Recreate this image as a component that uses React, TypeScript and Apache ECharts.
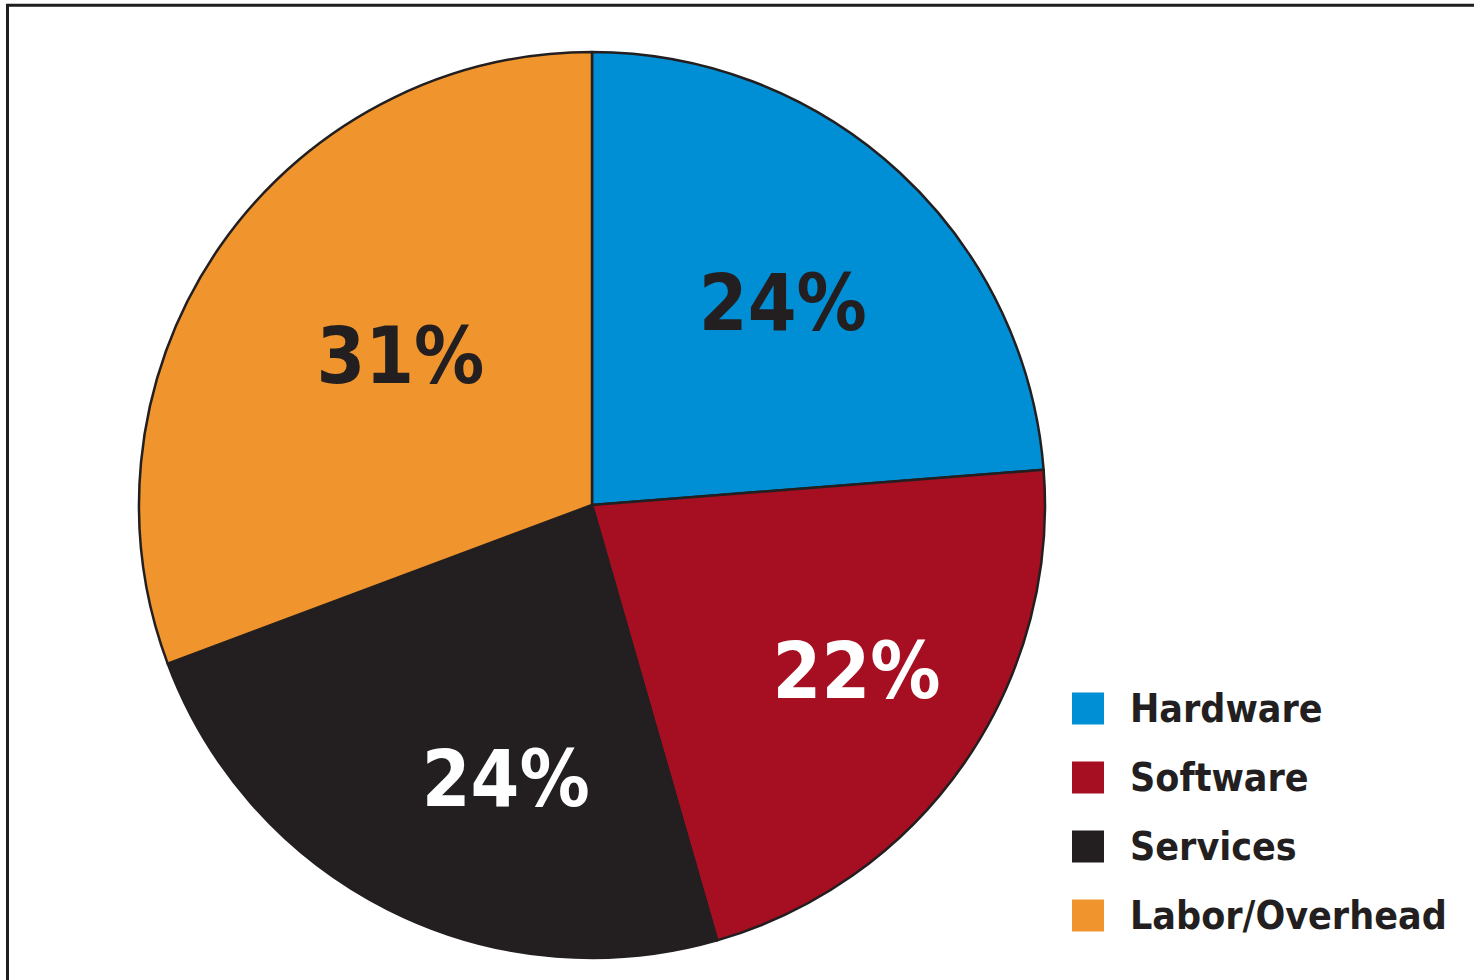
import React, { useEffect, useRef } from "react";
import * as echarts from "echarts";

const categories = ["Hardware", "Software", "Services", "Labor/Overhead"];
const values = [24, 22, 24, 31];
const colors = ["#008fd4", "#a60f21", "#231f20", "#f0952e"];
const labelColors = ["#231f20", "#ffffff", "#ffffff", "#231f20"];
// label nudges relative to ECharts' inner label position
const labelShift: [number, number][] = [
  [35, -34],
  [76, 35],
  [17, 69],
  [-3, -18],
];

const FONT = '"Liberation Sans Narrow", "DejaVu Sans Condensed", "Roboto Condensed", Arial, sans-serif';

export default function App() {
  const ref = useRef<HTMLDivElement>(null);
  useEffect(() => {
    if (!ref.current) return;
    const chart = echarts.init(ref.current, undefined, { renderer: "svg" });
    chart.setOption({
      animation: false,
      backgroundColor: "#ffffff",
      graphic: [
        {
          type: "rect",
          shape: { x: 7.5, y: 5.3, width: 1500, height: 1000 },
          style: { fill: "none", stroke: "#1e1e1e", lineWidth: 3 },
          silent: true,
          z: 100,
        },
      ],
      legend: {
        orient: "vertical",
        left: 1072,
        top: 689,
        height: 290,
        padding: 0,
        itemWidth: 32,
        itemHeight: 32,
        itemGap: 30,
        icon: "rect",
        selectedMode: false,
        data: categories,
        itemStyle: { borderWidth: 0 },
        textStyle: {
          fontFamily: FONT,
          fontWeight: "bold",
          fontSize: 39,
          lineHeight: 39,
          color: "#231f20",
          padding: [0, 0, 0, 21],
        },
      },
      series: [
        {
          type: "pie",
          center: [592, 505],
          radius: 453,
          startAngle: 90,
          clockwise: true,
          silent: true,
          itemStyle: { borderColor: "#231f20", borderWidth: 2.5 },
          label: {
            show: true,
            position: "inner",
            formatter: "{c}%",
            fontFamily: FONT,
            fontWeight: "bold",
            fontSize: 78,
          },
          labelLine: { show: false },
          labelLayout: (params: any) => {
            const s = labelShift[params.dataIndex];
            return { dx: s[0], dy: s[1] };
          },
          data: categories.map((name, i) => ({
            name,
            value: values[i],
            itemStyle: { color: colors[i] },
            label: { color: labelColors[i] },
          })),
        },
      ],
    });
    return () => chart.dispose();
  }, []);
  return (
    <div
      ref={ref}
      style={{ position: "fixed", left: 0, top: 0, width: 1474, height: 980 }}
    />
  );
}
